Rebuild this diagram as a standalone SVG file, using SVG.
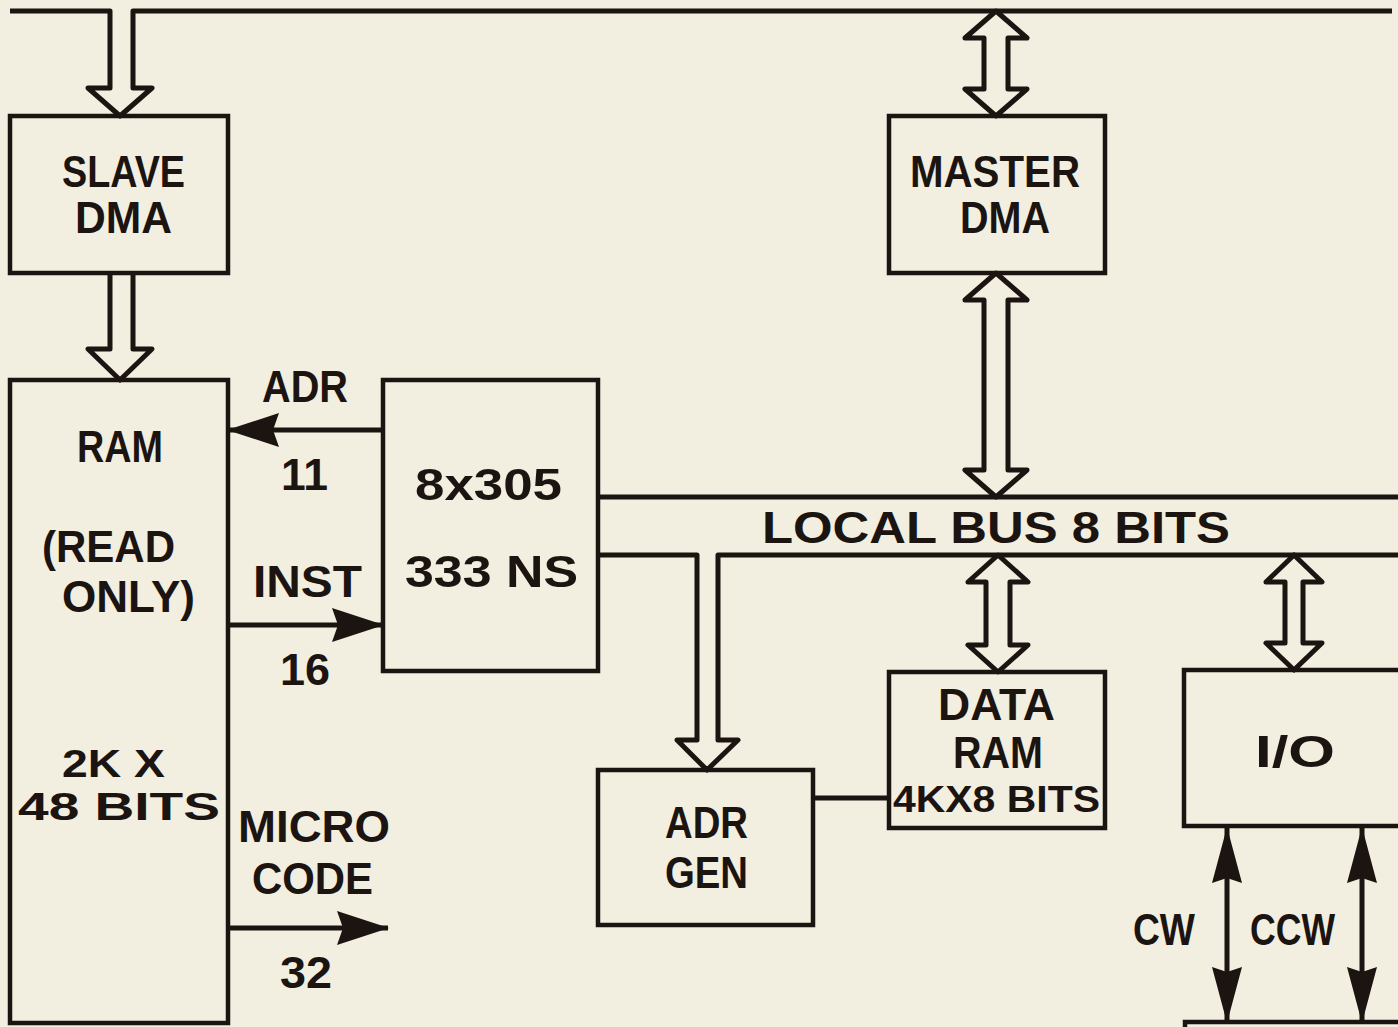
<svg xmlns="http://www.w3.org/2000/svg" width="1398" height="1027" viewBox="0 0 1398 1027">
<defs>
<style>
.bg{fill:#f2eee0}
.box{fill:none;stroke:#1b1410;stroke-width:4.5}
.ln{fill:none;stroke:#1b1410;stroke-width:5;stroke-linejoin:miter}
.hol{fill:none;stroke:#1b1410;stroke-width:5;stroke-linejoin:round}
.t{font-family:"Liberation Sans",Arial,sans-serif;font-weight:bold;fill:#1b1410;text-anchor:start}
.s45{font-size:45px}
.s38{font-size:38px}
.s36{font-size:36px}
</style>
<marker id="tri" viewBox="0 0 52 34" refX="51" refY="17" markerWidth="52" markerHeight="34" markerUnits="userSpaceOnUse" orient="auto-start-reverse">
<path d="M0,0 L52,17 L0,34 L6,17 Z" fill="#1b1410"/>
</marker>
<marker id="tri2" viewBox="0 0 56 30" refX="55" refY="15" markerWidth="56" markerHeight="30" markerUnits="userSpaceOnUse" orient="auto-start-reverse">
<path d="M0,0 L56,15 L0,30 L5,15 Z" fill="#1b1410"/>
</marker>
</defs>
<rect class="bg" x="0" y="0" width="1398" height="1027"/>

<g id="connectors">
<path class="hol" d="M10,11 H110 V88 H88 L120,116 L152,88 H133 V11 H1392"/>
<path class="hol" d="M110,273 V349 H88 L120,380 L152,349 H133 V273"/>
<path class="hol" d="M996,11 L1027,38 H1008 V89 H1027 L996,116 L965,89 H984 V38 H965 Z"/>
<path class="hol" d="M996,273 L1027,300 H1008 V470 H1027 L996,497 L965,470 H984 V300 H965 Z"/>
<path class="ln" d="M598,497 H1398"/>
<path class="hol" d="M598,555 H697 V740 H677 L707,770 L738,740 H718 V555 H1398"/>
<path class="hol" d="M998,555 L1028,582 H1010 V645 H1028 L998,672 L968,645 H986 V582 H968 Z"/>
<path class="hol" d="M1294,555 L1322,582 H1303 V643 H1322 L1294,670 L1266,643 H1285 V582 H1266 Z"/>
<line class="ln" x1="383" y1="430" x2="228" y2="430" marker-end="url(#tri)"/>
<line class="ln" x1="228" y1="625" x2="383" y2="625" marker-end="url(#tri)"/>
<line class="ln" x1="228" y1="928" x2="388" y2="928" marker-end="url(#tri)"/>
<line class="ln" x1="813" y1="798" x2="889" y2="798"/>
<line class="ln" x1="1227" y1="828" x2="1227" y2="1022" marker-start="url(#tri2)" marker-end="url(#tri2)"/>
<line class="ln" x1="1362" y1="828" x2="1362" y2="1022" marker-start="url(#tri2)" marker-end="url(#tri2)"/>
</g>

<g id="slave-dma">
<rect class="box" x="10" y="116" width="218" height="157"/>
<text class="t s45" x="62" y="187" textLength="123" lengthAdjust="spacingAndGlyphs">SLAVE</text>
<text class="t s45" x="75" y="233" textLength="97" lengthAdjust="spacingAndGlyphs">DMA</text>
</g>

<g id="master-dma">
<rect class="box" x="889" y="116" width="216" height="157"/>
<text class="t s45" x="910" y="187" textLength="170" lengthAdjust="spacingAndGlyphs">MASTER</text>
<text class="t s45" x="960" y="233" textLength="90" lengthAdjust="spacingAndGlyphs">DMA</text>
</g>

<g id="ram">
<rect class="box" x="10" y="380" width="218" height="643"/>
<text class="t s45" x="77" y="462" textLength="86" lengthAdjust="spacingAndGlyphs">RAM</text>
<text class="t s45" x="42" y="562" textLength="133" lengthAdjust="spacingAndGlyphs">(READ</text>
<text class="t s45" x="62" y="612" textLength="133" lengthAdjust="spacingAndGlyphs">ONLY)</text>
<text class="t s38" x="62" y="777" textLength="103" lengthAdjust="spacingAndGlyphs">2K X</text>
<text class="t s38" x="18" y="820" textLength="202" lengthAdjust="spacingAndGlyphs">48 BITS</text>
</g>

<g id="cpu-8x305">
<rect class="box" x="383" y="380" width="215" height="291"/>
<text class="t s45" x="415" y="500" textLength="147" lengthAdjust="spacingAndGlyphs">8x305</text>
<text class="t s45" x="405" y="587" textLength="173" lengthAdjust="spacingAndGlyphs">333 NS</text>
</g>

<g id="labels">
<text class="t s45" x="262" y="402" textLength="86" lengthAdjust="spacingAndGlyphs">ADR</text>
<text class="t s45" x="281" y="490" textLength="47" lengthAdjust="spacingAndGlyphs">11</text>
<text class="t s45" x="253" y="597" textLength="109" lengthAdjust="spacingAndGlyphs">INST</text>
<text class="t s45" x="280" y="685" textLength="50" lengthAdjust="spacingAndGlyphs">16</text>
<text class="t s45" x="238" y="842" textLength="152" lengthAdjust="spacingAndGlyphs">MICRO</text>
<text class="t s45" x="252" y="894" textLength="121" lengthAdjust="spacingAndGlyphs">CODE</text>
<text class="t s45" x="280" y="988" textLength="52" lengthAdjust="spacingAndGlyphs">32</text>
<text class="t s45" x="762" y="543" textLength="468" lengthAdjust="spacingAndGlyphs">LOCAL BUS 8 BITS</text>
<text class="t s45" x="1133" y="945" textLength="62" lengthAdjust="spacingAndGlyphs">CW</text>
<text class="t s45" x="1250" y="945" textLength="85" lengthAdjust="spacingAndGlyphs">CCW</text>
</g>

<g id="adr-gen">
<rect class="box" x="598" y="770" width="215" height="155"/>
<text class="t s45" x="665" y="838" textLength="83" lengthAdjust="spacingAndGlyphs">ADR</text>
<text class="t s45" x="665" y="888" textLength="83" lengthAdjust="spacingAndGlyphs">GEN</text>
</g>

<g id="data-ram">
<rect class="box" x="889" y="672" width="216" height="156"/>
<text class="t s45" x="938" y="720" textLength="117" lengthAdjust="spacingAndGlyphs">DATA</text>
<text class="t s45" x="953" y="768" textLength="90" lengthAdjust="spacingAndGlyphs">RAM</text>
<text class="t s36" x="893" y="812" textLength="207" lengthAdjust="spacingAndGlyphs">4KX8 BITS</text>
</g>

<g id="io">
<rect class="box" x="1184" y="670" width="240" height="156"/>
<text class="t s45" x="1255" y="767" textLength="80" lengthAdjust="spacingAndGlyphs">I/O</text>
</g>

<g id="bottom-box">
<rect class="box" x="1185" y="1022" width="240" height="30"/>
</g>
</svg>
